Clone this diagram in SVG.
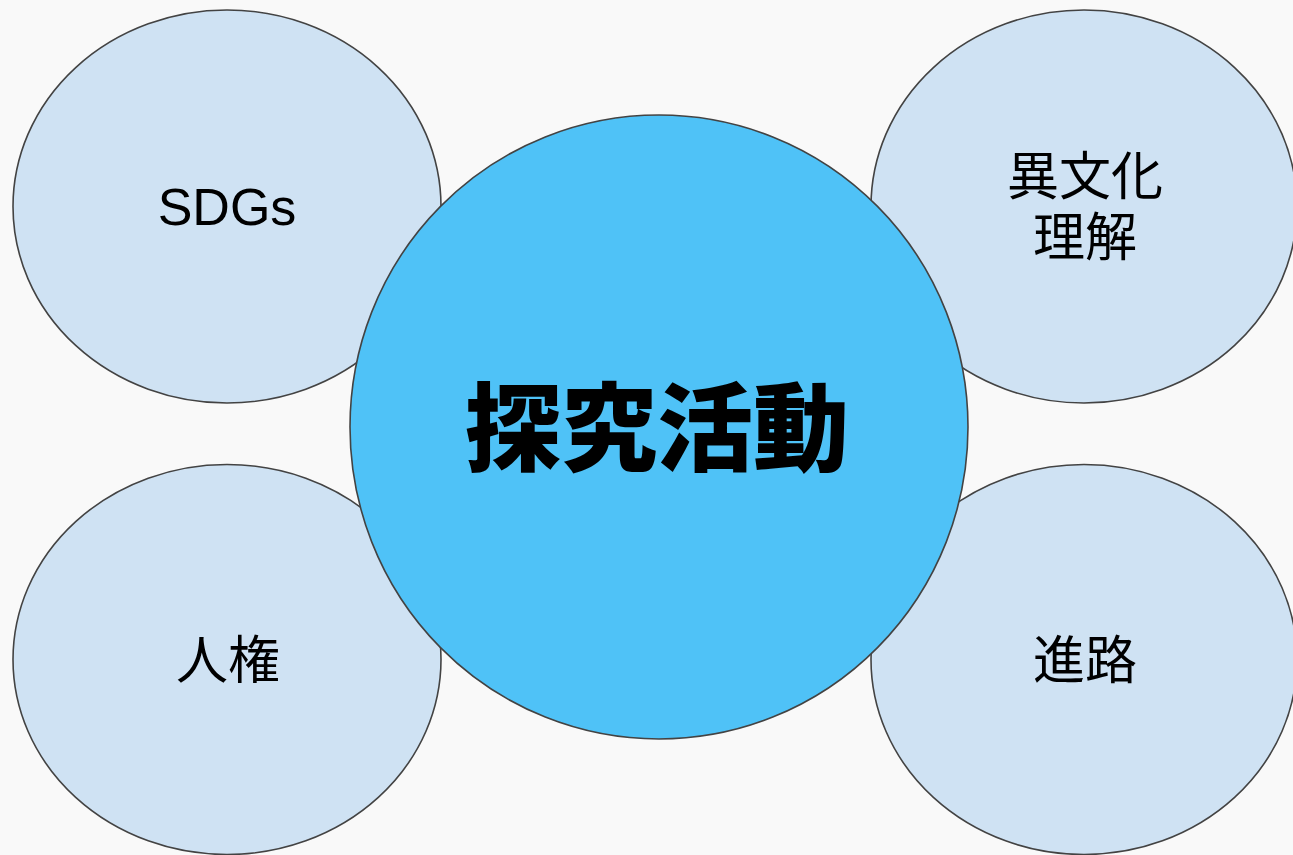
<svg xmlns="http://www.w3.org/2000/svg" width="1293" height="855" viewBox="0 0 1293 855">
<style>
.sub{fill:#cfe2f3;stroke:#434343;stroke-width:1.6}
.main{fill:#4fc2f7;stroke:#434343;stroke-width:1.6}
.lbl{font-family:"Noto Sans CJK JP","Liberation Sans",sans-serif;font-size:52px;fill:#000;text-anchor:middle}
.lat{font-family:"Liberation Sans",Arial,sans-serif;font-size:52px;fill:#000;text-anchor:middle}
.big{font-family:"Noto Sans CJK JP",sans-serif;font-size:96px;font-weight:900;fill:#000;text-anchor:middle}
</style>
<rect width="1293" height="855" fill="#f9f9f9"/>
<g id="connectors"></g>
<g id="node-sdgs">
<ellipse class="sub" cx="227" cy="206.5" rx="214" ry="196.5"/>
<text class="lat" x="227" y="225">SDGs</text>
</g>
<g id="node-ibunka">
<ellipse class="sub" cx="1084" cy="206.5" rx="213" ry="196.5"/>
<text class="lbl" x="1085" y="195">異文化<tspan x="1085" dy="61">理解</tspan></text>
</g>
<g id="node-jinken">
<ellipse class="sub" cx="227" cy="659.5" rx="214" ry="195"/>
<text class="lbl" x="228" y="679">人権</text>
</g>
<g id="node-shinro">
<ellipse class="sub" cx="1084" cy="659.5" rx="213" ry="195"/>
<text class="lbl" x="1085" y="679">進路</text>
</g>
<g id="node-tankyu">
<ellipse class="main" cx="659" cy="427" rx="309" ry="312"/>
<text class="big" x="657" y="463">探究活動</text>
</g>
</svg>
